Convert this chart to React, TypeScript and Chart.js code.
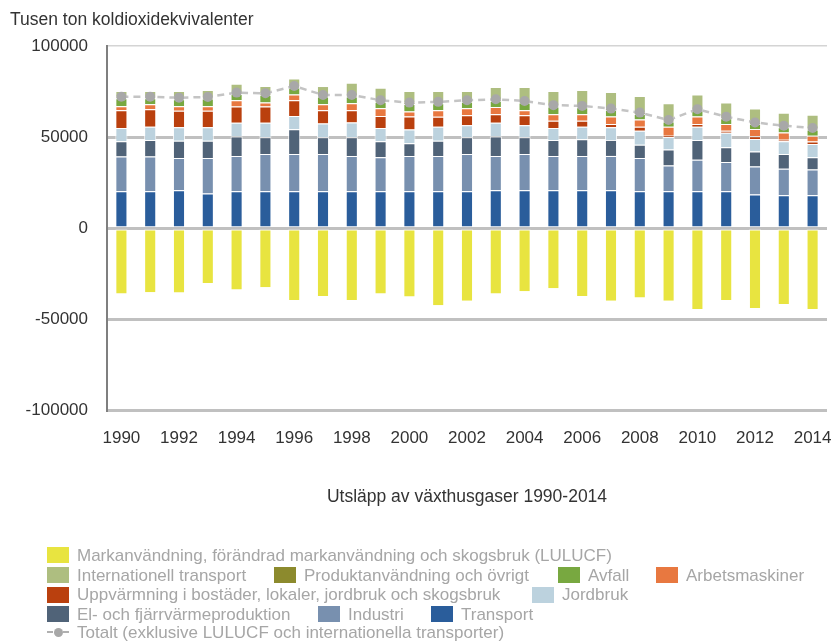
import React, { useEffect, useRef } from "react";
import { Chart, registerables } from "chart.js";
Chart.register(...registerables);

const FONT = '"Liberation Sans", Arial, sans-serif';

const years = ["1990","1991","1992","1993","1994","1995","1996","1997","1998","1999","2000","2001","2002","2003","2004","2005","2006","2007","2008","2009","2010","2011","2012","2013","2014"];

const transport = [20200,20200,20700,18900,20200,20200,20200,20200,20200,20200,20200,20200,20200,20700,20700,20700,20700,20700,20200,20200,20200,20200,18400,18000,18000];
const industri = [19100,19100,17800,19600,19400,20500,20500,20500,19400,18700,19400,19400,20500,18900,20000,18900,18900,18900,18300,14200,17300,16000,15400,14500,14200];
const elFjarrvarme = [8300,9100,9500,9500,10700,9100,13500,9100,10200,8700,6900,8400,9100,10700,9100,8800,9100,8800,7300,8700,10900,8200,8200,8200,6700];
const jordbruk = [7300,7200,7300,7300,7500,8000,7400,7600,8200,7300,7600,7600,6700,7500,6700,6500,6900,6900,7600,6900,7200,8000,6900,6900,7300];
const uppvarmning = [9800,9700,9100,9100,8900,8900,8600,7300,6700,6700,7100,5500,5500,4700,5500,4000,3300,1800,2200,700,1500,1100,1500,900,1300];
const arbetsmaskiner = [2200,2700,2500,2500,3500,2200,3200,3300,3800,4200,2800,3600,3800,4000,2700,3600,3600,4200,4000,4900,4200,3600,4000,4000,3200];
const avfall = [4400,3300,3900,4300,3400,4300,3800,4300,3800,3600,4100,3800,3600,3400,4300,4200,3800,3500,3000,2900,3200,3200,2800,2900,3400];
const produktanvandning = [800,800,800,800,800,800,800,800,800,800,800,800,800,800,800,800,800,800,800,800,800,800,800,800,800];
const internationell = [3200,3200,3700,3800,4900,4000,4200,4900,6700,6800,6400,6000,5100,6800,7700,7800,8700,9100,9100,9200,8100,7800,7600,7100,7300];
const lulucf = [-36000,-35300,-35500,-30200,-33800,-32500,-39500,-37300,-39500,-36000,-37600,-42400,-40000,-36000,-34700,-33100,-37300,-40000,-38200,-40000,-44500,-39500,-44000,-41800,-44500];
const totalt = [72100,72100,71600,72000,74400,74000,78000,73100,73100,70200,68900,69300,70200,70700,69800,67500,67100,65600,63400,59300,65300,61100,58000,56200,54900];

const yTicks = [-100000, -50000, 0, 50000, 100000];

const barSeries = [
  { label: "Transport", data: transport, color: "#2a5d9b" },
  { label: "Industri", data: industri, color: "#7890af" },
  { label: "El- och fjärrvärmeproduktion", data: elFjarrvarme, color: "#506378" },
  { label: "Jordbruk", data: jordbruk, color: "#bcd2de" },
  { label: "Uppvärmning i bostäder, lokaler, jordbruk och skogsbruk", data: uppvarmning, color: "#ba400e" },
  { label: "Arbetsmaskiner", data: arbetsmaskiner, color: "#e87840" },
  { label: "Avfall", data: avfall, color: "#78a840" },
  { label: "Produktanvändning och övrigt", data: produktanvandning, color: "#8c8a2d" },
  { label: "Internationell transport", data: internationell, color: "#aebe80" },
  { label: "Markanvändning, förändrad markanvändning och skogsbruk (LULUCF)", data: lulucf, color: "#e8e440" },
];
const totalLabel = "Totalt (exklusive LULUCF och internationella transporter)";

const legendRows: { label: string; x: number; row: number }[] = [
  { label: barSeries[9].label, x: 47, row: 0 },
  { label: barSeries[8].label, x: 47, row: 1 },
  { label: barSeries[7].label, x: 274, row: 1 },
  { label: barSeries[6].label, x: 558, row: 1 },
  { label: barSeries[5].label, x: 656, row: 1 },
  { label: barSeries[4].label, x: 47, row: 2 },
  { label: barSeries[3].label, x: 532, row: 2 },
  { label: barSeries[2].label, x: 47, row: 3 },
  { label: barSeries[1].label, x: 318, row: 3 },
  { label: barSeries[0].label, x: 431, row: 3 },
];
const rowCenters = [555, 575, 594.5, 614, 632];

export default function App() {
  const ref = useRef<HTMLCanvasElement>(null);
  useEffect(() => {
    const datasets: any[] = barSeries.map((s) => ({
      type: "bar",
      label: s.label,
      data: s.data,
      backgroundColor: s.color,
      borderColor: "rgba(255,255,255,0.9)",
      borderWidth: { top: 1, bottom: 0, left: 1, right: 1 },
      borderSkipped: false,
      stack: "s",
      order: 2,
      categoryPercentage: 1,
      barPercentage: 0.42,
    }));
    datasets.push({
      type: "line",
      label: totalLabel,
      data: totalt,
      stack: "total",
      order: 0,
      borderColor: "#c4c4c4",
      borderWidth: 2.5,
      borderDash: [7, 5],
      pointRadius: 5,
      pointBackgroundColor: "#a8a8a8",
      pointBorderColor: "#a8a8a8",
      pointBorderWidth: 0,
      fill: false,
      tension: 0,
    });
    const chart = new Chart(ref.current!, {
      type: "bar",
      data: { labels: years, datasets },
      options: {
        animation: false,
        responsive: false,
        events: [],
        layout: { padding: { left: 0, top: 46, right: 8, bottom: 0 } },
        plugins: { legend: { display: false }, tooltip: { enabled: false }, title: { display: false } },
        scales: {
          x: {
            stacked: true,
            offset: true,
            grid: { display: false, drawTicks: false },
            border: { display: false },
            ticks: {
              autoSkip: false,
              maxRotation: 0,
              minRotation: 0,
              padding: 18,
              color: "#333",
              font: { family: FONT, size: 17 },
              callback: (_v: any, i: number) => (i % 2 === 0 ? years[i] : ""),
            },
            afterFit: (s: any) => { s.height = 231; s.paddingLeft = 0; s.paddingRight = 0; },
          },
          y: {
            stacked: true,
            min: -100000,
            max: 100000,
            afterBuildTicks: (s: any) => { s.ticks = yTicks.map((v) => ({ value: v })); },
            grid: {
              drawTicks: false,
              color: (c: any) => (c.tick && c.tick.value === 100000 ? "#d4d4d4" : "#c0c0c0"),
              lineWidth: (c: any) => (c.tick && c.tick.value === 100000 ? 1.5 : 3),
            },
            border: { display: true, color: "#7f7f7f", width: 2 },
            ticks: {
              padding: 19,
              color: "#333",
              font: { family: FONT, size: 17 },
              callback: (v: any) => String(v),
            },
            afterFit: (s: any) => { s.width = 107; },
          },
        },
      },
    } as any);
    return () => chart.destroy();
  }, []);

  const textBase: React.CSSProperties = {
    position: "absolute",
    whiteSpace: "nowrap",
    fontFamily: FONT,
    lineHeight: "17px",
    fontSize: 17,
  };

  return (
    <div style={{ position: "absolute", left: 0, top: 0, width: 835, height: 641, background: "#fff", overflow: "hidden" }}>
      <canvas ref={ref} width={835} height={641} style={{ position: "absolute", left: 0, top: 0, width: 835, height: 641 }} />
      <div style={{ ...textBase, left: 10, top: 11, fontSize: 17.5, lineHeight: "17.5px", color: "#333" }}>Tusen ton koldioxidekvivalenter</div>
      <div style={{ ...textBase, left: 467, top: 488, fontSize: 17.5, lineHeight: "17.5px", color: "#333", transform: "translateX(-50%)" }}>Utsläpp av växthusgaser 1990-2014</div>
      {legendRows.map((it, i) => {
        const s = barSeries.find((b) => b.label === it.label)!;
        const cy = rowCenters[it.row];
        return (
          <React.Fragment key={i}>
            <div style={{ position: "absolute", left: it.x, top: cy - 8, width: 22, height: 16, background: s.color }} />
            <div style={{ ...textBase, left: it.x + 30, top: cy - 8.4, color: "#a6a6a6" }}>{it.label}</div>
          </React.Fragment>
        );
      })}
      <div style={{ position: "absolute", left: 47, top: rowCenters[4] - 1, width: 22, height: 0, borderTop: "2px dashed #b0b0b0" }} />
      <div style={{ position: "absolute", left: 53.5, top: rowCenters[4] - 4.5, width: 9, height: 9, borderRadius: "50%", background: "#a8a8a8" }} />
      <div style={{ ...textBase, left: 77, top: rowCenters[4] - 8.4, color: "#a6a6a6" }}>{totalLabel}</div>
    </div>
  );
}
